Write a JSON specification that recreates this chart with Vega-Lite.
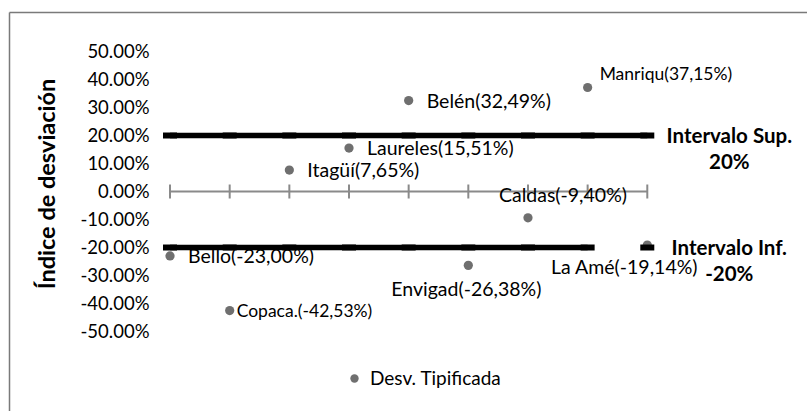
{
  "$schema": "https://vega.github.io/schema/vega-lite/v6.json",
  "width": 798,
  "height": 399,
  "autosize": {"type": "none"},
  "padding": {"left": 9, "top": 12, "right": 0, "bottom": 0},
  "background": "white",
  "config": {"view": {"stroke": null}, "font": "Lato"},
  "datasets": {
    "puntos": [
      {"x": 0, "y": -0.23, "nombre": "Bello", "etiqueta": "Bello(-23,00%)", "serie": "Desv. Tipificada"},
      {"x": 1, "y": -0.4253, "nombre": "Copaca.", "etiqueta": "Copaca.(-42,53%)", "serie": "Desv. Tipificada"},
      {"x": 2, "y": 0.0765, "nombre": "Itagüí", "etiqueta": "Itagüí(7,65%)", "serie": "Desv. Tipificada"},
      {"x": 3, "y": 0.1551, "nombre": "Laureles", "etiqueta": "Laureles(15,51%)", "serie": "Desv. Tipificada"},
      {"x": 4, "y": 0.3249, "nombre": "Belén", "etiqueta": "Belén(32,49%)", "serie": "Desv. Tipificada"},
      {"x": 5, "y": -0.2638, "nombre": "Envigad", "etiqueta": "Envigad(-26,38%)", "serie": "Desv. Tipificada"},
      {"x": 6, "y": -0.094, "nombre": "Caldas", "etiqueta": "Caldas(-9,40%)", "serie": "Desv. Tipificada"},
      {"x": 7, "y": 0.3715, "nombre": "Manriqu", "etiqueta": "Manriqu(37,15%)", "serie": "Desv. Tipificada"},
      {"x": 8, "y": -0.1914, "nombre": "La Amé", "etiqueta": "La Amé(-19,14%)", "serie": "Desv. Tipificada"}
    ],
    "limites": [
      {"serie": "Intervalo Sup.", "x": 0, "y": 0.2},
      {"serie": "Intervalo Sup.", "x": 1, "y": 0.2},
      {"serie": "Intervalo Sup.", "x": 2, "y": 0.2},
      {"serie": "Intervalo Sup.", "x": 3, "y": 0.2},
      {"serie": "Intervalo Sup.", "x": 4, "y": 0.2},
      {"serie": "Intervalo Sup.", "x": 5, "y": 0.2},
      {"serie": "Intervalo Sup.", "x": 6, "y": 0.2},
      {"serie": "Intervalo Sup.", "x": 7, "y": 0.2},
      {"serie": "Intervalo Sup.", "x": 8, "y": 0.2, "etiqueta": "Intervalo Sup.\n20%"},
      {"serie": "Intervalo Inf.", "x": 0, "y": -0.2},
      {"serie": "Intervalo Inf.", "x": 1, "y": -0.2},
      {"serie": "Intervalo Inf.", "x": 2, "y": -0.2},
      {"serie": "Intervalo Inf.", "x": 3, "y": -0.2},
      {"serie": "Intervalo Inf.", "x": 4, "y": -0.2},
      {"serie": "Intervalo Inf.", "x": 5, "y": -0.2},
      {"serie": "Intervalo Inf.", "x": 6, "y": -0.2},
      {"serie": "Intervalo Inf.", "x": 7, "y": -0.2},
      {"serie": "Intervalo Inf.", "x": 8, "y": -0.2, "etiqueta": "Intervalo Inf.\n-20%"}
    ]
  },
  "layer": [
    {
      "data": {"name": "puntos"},
      "mark": {"type": "rule", "color": "#8a8a8a", "strokeWidth": 2.2},
      "encoding": {
        "x": {
          "aggregate": "min", "field": "x", "type": "quantitative",
          "scale": {"domain": [-2.699, 10.677], "nice": false, "zero": false},
          "axis": {"orient": "top", "labels": false, "ticks": false, "grid": false, "title": null, "domain": true, "domainColor": "#7a7a7a", "domainWidth": 1.5}
        },
        "x2": {"aggregate": "max", "field": "x"},
        "y": {
          "datum": 0, "type": "quantitative",
          "scale": {"domain": [-0.7839, 0.6411], "nice": false, "zero": false},
          "axis": {
            "orient": "left",
            "values": [-0.5, -0.4, -0.3, -0.2, -0.1, 0, 0.1, 0.2, 0.3, 0.4, 0.5],
            "tickCount": 30,
            "format": ".2%",
            "labelExpr": "replace(datum.label, '\u2212', '-')",
            "labelOverlap": false, "labelBound": false, "labelFlush": false,
            "ticks": false, "tickSize": 0, "grid": false,
            "domain": true, "domainColor": "#7a7a7a", "domainWidth": 1.5,
            "labelPadding": -140, "labelFont": "Lato", "labelFontSize": 18.5, "labelColor": "#000000",
            "labelAlign": "right", "labelBaseline": "middle",
            "title": "Índice de desviación", "titleX": 38, "titleY": 171.5, "titleAngle": -90,
            "titleAlign": "center", "titleBaseline": "middle", "titleFont": "Lato", "titleFontSize": 23.5,
            "titleFontWeight": "bold", "titleColor": "#000000"
          }
        }
      }
    },
    {
      "data": {"name": "puntos"},
      "mark": {"type": "tick", "orient": "vertical", "color": "#8a8a8a", "size": 14, "thickness": 2, "opacity": 1},
      "encoding": {
        "x": {"field": "x", "type": "quantitative"},
        "y": {"datum": 0, "type": "quantitative"}
      }
    },
    {
      "data": {"name": "puntos"},
      "mark": {"type": "point", "filled": true, "size": 85, "opacity": 1},
      "encoding": {
        "x": {"field": "x", "type": "quantitative"},
        "y": {"field": "y", "type": "quantitative"},
        "color": {
          "field": "serie", "type": "nominal",
          "scale": {"range": ["#6f6f6f"]},
          "legend": {
            "orient": "none", "legendX": 336, "legendY": 357, "title": null,
            "symbolType": "circle", "symbolSize": 70, "symbolOpacity": 1,
            "labelFont": "Lato", "labelFontSize": 19, "labelColor": "#000000", "labelOffset": 6, "padding": 0
          }
        }
      }
    },
    {
      "data": {"name": "limites"},
      "transform": [{"filter": "datum.serie == 'Intervalo Sup.' || datum.x <= 7"}],
      "mark": {"type": "line", "color": "#000000", "strokeWidth": 5.5},
      "encoding": {
        "x": {"field": "x", "type": "quantitative"},
        "y": {"field": "y", "type": "quantitative"},
        "detail": {"field": "serie", "type": "nominal"}
      }
    },
    {
      "data": {"name": "limites"},
      "mark": {"type": "tick", "orient": "horizontal", "color": "#000000", "size": 14, "thickness": 6, "opacity": 1},
      "encoding": {
        "x": {"field": "x", "type": "quantitative"},
        "y": {"field": "y", "type": "quantitative"}
      }
    },
    {
      "data": {"name": "limites"},
      "transform": [{"filter": "isValid(datum.etiqueta)"}],
      "mark": {"type": "text", "align": "center", "baseline": "middle", "lineBreak": "\n", "lineHeight": 26, "dx": 82, "dy": 1, "font": "Lato", "fontSize": 20.5, "fontWeight": "bold", "color": "#000000"},
      "encoding": {
        "x": {"field": "x", "type": "quantitative"},
        "y": {"field": "y", "type": "quantitative"},
        "text": {"field": "etiqueta", "type": "nominal"}
      }
    },
    {
      "data": {"name": "puntos"},
      "transform": [{"filter": {"field": "nombre", "oneOf": ["Bello", "Itagüí", "Laureles", "Belén"]}}],
      "mark": {"type": "text", "align": "left", "baseline": "middle", "dx": 18, "dy": 1, "font": "Lato", "fontSize": 19.5, "color": "#000000"},
      "encoding": {
        "x": {"field": "x", "type": "quantitative"},
        "y": {"field": "y", "type": "quantitative"},
        "text": {"field": "etiqueta", "type": "nominal"}
      }
    },
    {
      "data": {"name": "puntos"},
      "transform": [{"filter": {"field": "nombre", "oneOf": ["Copaca."]}}],
      "mark": {"type": "text", "align": "left", "baseline": "middle", "dx": 7, "dy": 1, "font": "Lato", "fontSize": 17.5, "color": "#000000"},
      "encoding": {
        "x": {"field": "x", "type": "quantitative"},
        "y": {"field": "y", "type": "quantitative"},
        "text": {"field": "etiqueta", "type": "nominal"}
      }
    },
    {
      "data": {"name": "puntos"},
      "transform": [{"filter": {"field": "nombre", "oneOf": ["Manriqu"]}}],
      "mark": {"type": "text", "align": "left", "baseline": "middle", "dx": 12, "dy": -12, "font": "Lato", "fontSize": 17.5, "color": "#000000"},
      "encoding": {
        "x": {"field": "x", "type": "quantitative"},
        "y": {"field": "y", "type": "quantitative"},
        "text": {"field": "etiqueta", "type": "nominal"}
      }
    },
    {
      "data": {"name": "puntos"},
      "transform": [{"filter": {"field": "nombre", "oneOf": ["Caldas"]}}],
      "mark": {"type": "text", "align": "center", "baseline": "middle", "dx": 35, "dy": -22, "font": "Lato", "fontSize": 19.5, "color": "#000000"},
      "encoding": {
        "x": {"field": "x", "type": "quantitative"},
        "y": {"field": "y", "type": "quantitative"},
        "text": {"field": "etiqueta", "type": "nominal"}
      }
    },
    {
      "data": {"name": "puntos"},
      "transform": [{"filter": {"field": "nombre", "oneOf": ["Envigad"]}}],
      "mark": {"type": "text", "align": "center", "baseline": "middle", "dx": -2, "dy": 25, "font": "Lato", "fontSize": 19.5, "color": "#000000"},
      "encoding": {
        "x": {"field": "x", "type": "quantitative"},
        "y": {"field": "y", "type": "quantitative"},
        "text": {"field": "etiqueta", "type": "nominal"}
      }
    },
    {
      "data": {"name": "puntos"},
      "transform": [{"filter": {"field": "nombre", "oneOf": ["La Amé"]}}],
      "mark": {"type": "text", "align": "center", "baseline": "middle", "dx": -23, "dy": 23, "font": "Lato", "fontSize": 19.5, "color": "#000000"},
      "encoding": {
        "x": {"field": "x", "type": "quantitative"},
        "y": {"field": "y", "type": "quantitative"},
        "text": {"field": "etiqueta", "type": "nominal"}
      }
    }
  ]
}
